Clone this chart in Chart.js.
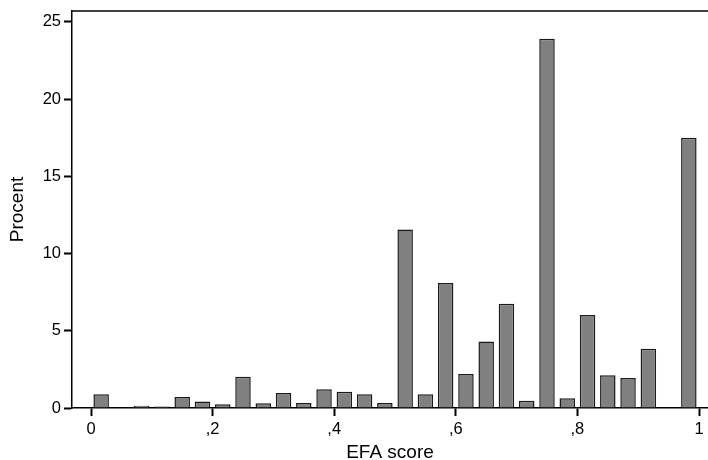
<!DOCTYPE html>
<html>
<head>
<meta charset="utf-8">
<script src="https://cdn.jsdelivr.net/npm/chart.js@4/dist/chart.umd.min.js"></script>
<style>
html,body{margin:0;padding:0;background:#fff;}
#wrap{width:708px;height:460px;}
</style>
</head>
<body>
<div id="wrap"><canvas id="c" width="708" height="460"></canvas></div>
<script>
// EFA score bin midpoints (bins of width 1/30)
const binMids = [0.0167, 0.05, 0.0833, 0.1167, 0.15, 0.1833, 0.2167, 0.25, 0.2833, 0.3167,
                 0.35, 0.3833, 0.4167, 0.45, 0.4833, 0.5167, 0.55, 0.5833, 0.6167, 0.65,
                 0.6833, 0.7167, 0.75, 0.7833, 0.8167, 0.85, 0.8833, 0.9167, 0.95, 0.9833];
// Procent per bin
const percent = [0.89, null, 0.15, 0.09, 0.72, 0.42, 0.24, 2.03, 0.31, 0.97,
                 0.32, 1.21, 1.05, 0.89, 0.32, 11.55, 0.89, 8.09, 2.2, 4.31,
                 6.75, 0.47, 23.91, 0.63, 6.02, 2.12, 1.95, 3.83, null, 17.5];
const xTickValues = [0, 0.2, 0.4, 0.6, 0.8, 1];
const xTickLabels = ['0', ',2', ',4', ',6', ',8', '1'];
const yTickValues = [0, 5, 10, 15, 20, 25];

const FONT = 'Arial, "Liberation Sans", Helvetica, sans-serif';

const frameTop = {
  id: 'frameTop',
  afterDraw(chart) {
    const {ctx, chartArea: a} = chart;
    ctx.save();
    ctx.strokeStyle = '#000';
    ctx.lineWidth = 1.5;
    ctx.beginPath();
    ctx.moveTo(a.left, a.top);
    ctx.lineTo(a.right, a.top);
    ctx.stroke();
    ctx.restore();
  }
};

new Chart(document.getElementById('c'), {
  type: 'bar',
  data: {
    datasets: [{
      data: binMids.map((x, i) => ({x: x, y: percent[i]})),
      backgroundColor: '#808080',
      borderColor: '#1a1a1a',
      borderWidth: 1.5,
      categoryPercentage: 1,
      barPercentage: 0.765
    }]
  },
  options: {
    responsive: false,
    devicePixelRatio: 1,
    animation: false,
    layout: {padding: {top: 11, left: 0, right: 0, bottom: 0}},
    plugins: {legend: {display: false}, tooltip: {enabled: false}},
    scales: {
      x: {
        type: 'linear',
        offset: false,
        min: -0.03125,
        max: 1.0148,
        afterBuildTicks: s => { s.ticks = xTickValues.map(v => ({value: v})); },
        afterFit: s => { s.height = 52; s.paddingLeft = 0; s.paddingRight = 0; },
        ticks: {
          autoSkip: false, maxRotation: 0, padding: 4, color: '#000',
          font: {family: FONT, size: 16.5},
          callback: v => xTickLabels[xTickValues.indexOf(v)]
        },
        grid: {offset: false, drawOnChartArea: false, drawTicks: true, tickLength: 8, tickWidth: 2, tickColor: '#000'},
        border: {display: true, color: '#000', width: 1.5},
        title: {display: true, text: 'EFA score', color: '#000',
                font: {family: FONT, size: 19, lineHeight: 1}, padding: {top: 0, bottom: -1.85}}
      },
      y: {
        type: 'linear',
        min: 0,
        max: 25.7,
        afterBuildTicks: s => { s.ticks = yTickValues.map(v => ({value: v})); },
        afterFit: s => { s.width = 72; s.paddingTop = 0; s.paddingBottom = 0; },
        ticks: {padding: 3, color: '#000', font: {family: FONT, size: 16.5}},
        grid: {drawOnChartArea: false, drawTicks: true, tickLength: 8, tickWidth: 2, tickColor: '#000'},
        border: {display: true, color: '#000', width: 1.5},
        title: {display: true, text: 'Procent', color: '#000',
                font: {family: FONT, size: 19, lineHeight: 1}, padding: {top: 7.85, bottom: 0}}
      }
    }
  },
  plugins: [frameTop]
});
</script>
</body>
</html>
